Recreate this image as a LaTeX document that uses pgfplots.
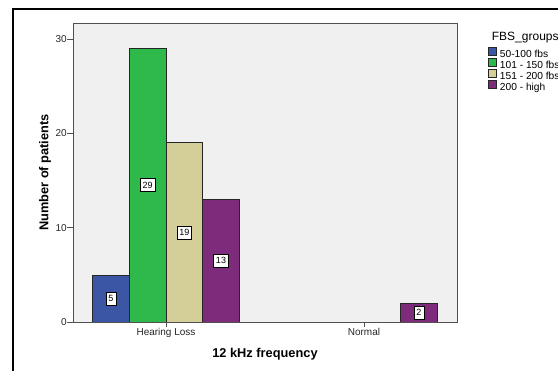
\documentclass[border=0pt]{standalone}
\usepackage{pgfplots}
\pgfplotsset{compat=1.18}
\usepackage{fontspec}
\setmainfont{Liberation Sans}
\definecolor{cblue}{HTML}{3B56A5}
\definecolor{cgreen}{HTML}{2EB94A}
\definecolor{ctan}{HTML}{D4CF98}
\definecolor{cpurple}{HTML}{7E2B7C}
\definecolor{bggray}{HTML}{F0F0F0}
\definecolor{axgray}{HTML}{505050}
\begin{document}
\begin{tikzpicture}
\begin{axis}[
  at={(0pt,0pt)}, anchor=south west,
  scale only axis, width=384pt, height=299pt,
  xmin=-0.4697, xmax=1.4697, ymin=0, ymax=31.70,
  axis background/.style={fill=bggray},
  axis line style={draw=axgray, line width=0.8pt},
  ybar, bar width=0.1852,
  xtick={0,1}, xticklabels={Hearing Loss, Normal},
  ytick={0,10,20,30},
  tick align=outside, major tick length=5.5pt,
  tick style={draw=axgray, line width=0.7pt},
  xtick pos=bottom, ytick pos=left,
  /pgf/number format/assume math mode=true,
  ticklabel style={font=\fontsize{10}{11}\selectfont, text=black!85},
  yticklabel style={inner sep=0.5pt},
  xticklabel style={inner sep=1pt},
  xlabel={12 kHz frequency}, ylabel={Number of patients},
  label style={font=\bfseries\fontsize{12.8}{14}\selectfont},
  xlabel style={at={(axis description cs:0.5,0)}, anchor=base, yshift=-36pt},
  ylabel style={at={(axis description cs:-0.0729,0.5)}, anchor=center},
  legend style={at={(axis description cs:1.0799,0.922)}, anchor=north west,
    draw=none, fill=none, inner sep=0pt, font=\fontsize{10.2}{11}\selectfont,
    nodes={inner sep=0pt, text height=7.5pt, text depth=2pt},
    row sep=-1.5pt, column sep=3pt},
  legend cell align=left,
  legend image code/.code={\draw[#1] (0pt,-0.5pt) rectangle (8.5pt,7.5pt);},
  nodes near coords style={fill=white, draw=black, line width=0.5pt, anchor=center,
    inner xsep=2.3pt, inner ysep=3pt, text height=6.5pt, text depth=0.5pt,
    font=\fontsize{9}{10}\selectfont},
]
\addplot[fill=cblue, draw=black!85, line width=0.6pt, bar shift=-0.2778] coordinates {(0,5)};
\addlegendentry{50-100 fbs}
\addplot[fill=cgreen, draw=black!85, line width=0.6pt, bar shift=-0.0926] coordinates {(0,29)};
\addlegendentry{101 - 150 fbs}
\addplot[fill=ctan, draw=black!85, line width=0.6pt, bar shift=0.0926] coordinates {(0,19)};
\addlegendentry{151 - 200 fbs}
\addplot[fill=cpurple, draw=black!85, line width=0.6pt, bar shift=0.2778] coordinates {(0,13) (1,2)};
\addlegendentry{200 - high}
% value labels at bar mid-height
\addplot[draw=none, fill=none, forget plot, bar shift=-0.2778, nodes near coords, point meta=explicit symbolic] coordinates {(0,2.5)[5]};
\addplot[draw=none, fill=none, forget plot, bar shift=-0.0926, nodes near coords, point meta=explicit symbolic] coordinates {(0,14.5)[29]};
\addplot[draw=none, fill=none, forget plot, bar shift=0.0926, nodes near coords, point meta=explicit symbolic] coordinates {(0,9.5)[19]};
\addplot[draw=none, fill=none, forget plot, bar shift=0.2778, nodes near coords, point meta=explicit symbolic] coordinates {(0,6.5)[13] (1,1)[2]};
\end{axis}
\node[anchor=base west, inner sep=0pt, font=\fontsize{12}{13}\selectfont] at (418.7pt,281.5pt) {FBS\_groups};
\draw[line width=2pt] (-60pt,-49pt) -- (-60pt,313pt) -- (485pt,313pt);
\pgfresetboundingbox
\useasboundingbox (-73pt,-49pt) rectangle (485pt,322pt);
\end{tikzpicture}
\end{document}
